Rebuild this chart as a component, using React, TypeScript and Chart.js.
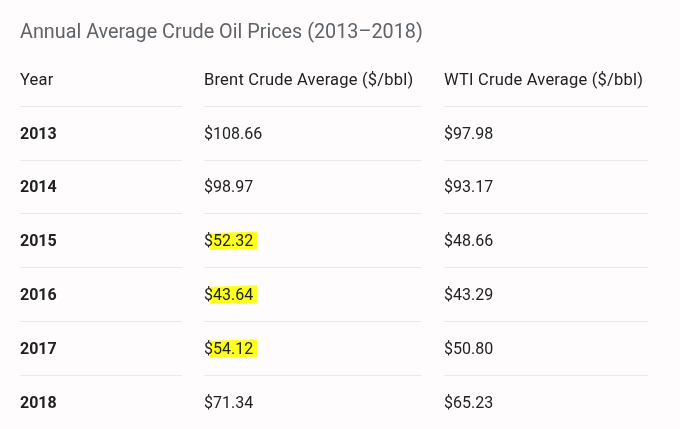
import React, { useEffect, useRef } from "react";
import { Chart, registerables } from "chart.js";

Chart.register(...registerables);

// ---- data ----
const chartTitle = "Annual Average Crude Oil Prices (2013–2018)";
const headers = ["Year", "Brent Crude Average ($/bbl)", "WTI Crude Average ($/bbl)"];
const years = ["2013", "2014", "2015", "2016", "2017", "2018"];
const brent = [108.66, 98.97, 52.32, 43.64, 54.12, 71.34];
const wti = [97.98, 93.17, 48.66, 43.29, 50.8, 65.23];
const brentHighlighted = [false, false, true, true, true, false];

// ---- layout / style ----
const FONT = "Roboto, 'Noto Sans', sans-serif";
const TEXT = "#202124";
const TITLE_COLOR = "#5f6368";
const LINE = "#e9e9ea";
const BG = "#fefcfc";
const HIGHLIGHT = "#ffff1f";
const TEXT_DY = 2;
const columnSpans: [number, number][] = [
  [20, 182],
  [204, 421],
  [444, 648],
];
const rowLabels = ["header", ...years];

const fmt = (v: number) => "$" + v.toFixed(2);

const tablePlugin = {
  id: "tablePlugin",
  beforeDraw(chart: any) {
    const { ctx, width, height } = chart;
    ctx.save();
    ctx.fillStyle = BG;
    ctx.fillRect(0, 0, width, height);
    ctx.restore();
  },
  afterDatasetsDraw(chart: any) {
    const { ctx } = chart;
    const xs = chart.scales.x;
    const ys = chart.scales.y;
    ctx.save();
    // separators
    ctx.strokeStyle = LINE;
    ctx.lineWidth = 1.2;
    for (let i = 0; i < rowLabels.length - 1; i++) {
      const yb = Math.round((ys.getPixelForValue(i) + ys.getPixelForValue(i + 1)) / 2) + 0.5;
      columnSpans.forEach(([a, b]) => {
        ctx.beginPath();
        ctx.moveTo(xs.getPixelForValue(a), yb);
        ctx.lineTo(xs.getPixelForValue(b), yb);
        ctx.stroke();
      });
    }
    ctx.textBaseline = "middle";
    ctx.textAlign = "left";
    const colX = columnSpans.map(([a]) => xs.getPixelForValue(a));
    // header
    ctx.fillStyle = TEXT;
    ctx.font = `400 16.5px ${FONT}`;
    (ctx as any).letterSpacing = "0.2px";
    headers.forEach((h, c) => ctx.fillText(h, colX[c], ys.getPixelForValue(0) + TEXT_DY));
    (ctx as any).letterSpacing = "0px";
    // rows
    years.forEach((yr, r) => {
      const y = ys.getPixelForValue(r + 1) + TEXT_DY;
      ctx.font = `bold 16px ${FONT}`;
      ctx.fillStyle = TEXT;
      ctx.fillText(yr, colX[0], y);
      ctx.font = `400 16px ${FONT}`;
      const bText = fmt(brent[r]);
      if (brentHighlighted[r]) {
        const dollarW = ctx.measureText("$").width;
        const fullW = ctx.measureText(bText).width;
        ctx.fillStyle = HIGHLIGHT;
        ctx.beginPath();
        const x0 = colX[1] + dollarW - 3;
        const x1 = colX[1] + fullW + 4;
        const cy = y - 1.5;
        ctx.moveTo(x0, cy - 8);
        ctx.lineTo(x1, cy - 9.5);
        ctx.lineTo(x1, cy + 8);
        ctx.lineTo(x0, cy + 9);
        ctx.closePath();
        ctx.fill();
      }
      ctx.fillStyle = TEXT;
      ctx.fillText(bText, colX[1], y);
      ctx.fillText(fmt(wti[r]), colX[2], y);
    });
    ctx.restore();
  },
};

export default function App() {
  const ref = useRef<HTMLCanvasElement>(null);
  useEffect(() => {
    document.body.style.margin = "0";
    const canvas = ref.current!;
    const cells = (col: number) =>
      rowLabels.map((lab) => ({ x: columnSpans[col][0], y: lab }));
    const chart = new Chart(canvas, {
      type: "scatter",
      data: {
        datasets: headers.map((h, i) => ({
          label: h,
          data: cells(i) as any,
          pointRadius: 0,
          pointHoverRadius: 0,
        })),
      },
      options: {
        animation: false,
        responsive: false,
        events: [],
        layout: { padding: { left: 20, right: 0, top: 0, bottom: 0 } },
        scales: {
          x: { type: "linear", min: 20, max: 680, display: false },
          y: { type: "category", labels: rowLabels, offset: true, display: false },
        },
        plugins: {
          legend: { display: false },
          tooltip: { enabled: false },
          title: {
            display: true,
            text: chartTitle,
            align: "start",
            color: TITLE_COLOR,
            font: { family: FONT, size: 19.8, weight: "normal" },
            padding: { top: 21, bottom: 7 },
          },
        },
      },
      plugins: [tablePlugin],
    });
    return () => chart.destroy();
  }, []);
  return (
    <div style={{ width: 680, height: 429 }}>
      <canvas ref={ref} width={680} height={429} style={{ display: "block" }} />
    </div>
  );
}
